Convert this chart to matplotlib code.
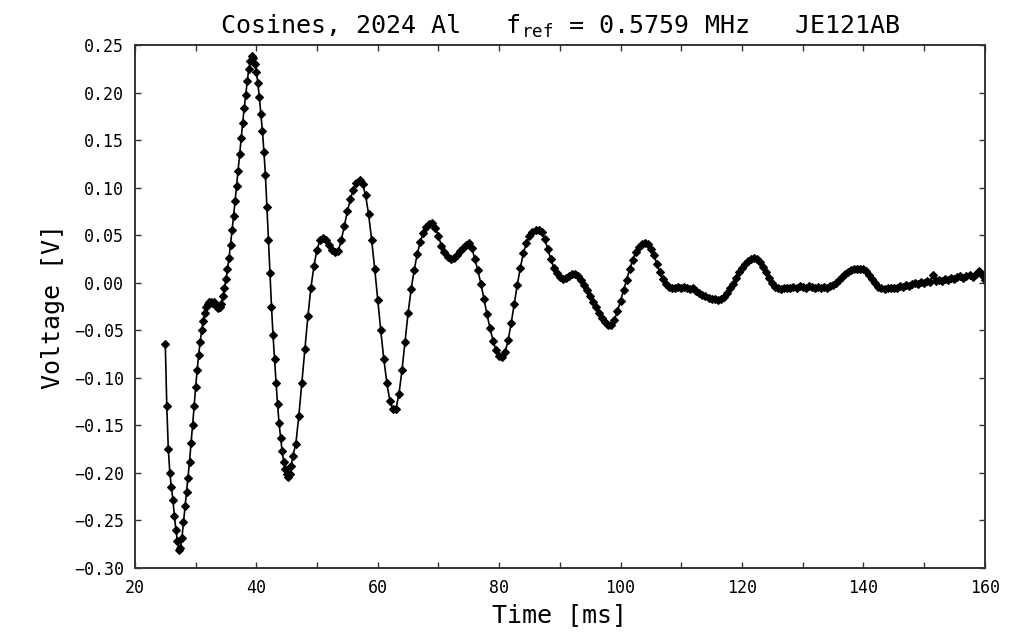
import matplotlib
matplotlib.use("Agg")
import numpy as np
from matplotlib import pyplot as plt
from matplotlib.ticker import MultipleLocator, FuncFormatter

# samples (time in ms, voltage in V)
t_early = [
    25.0, 25.25, 25.5, 25.75, 26.0, 26.25, 26.5, 26.75, 27.0, 27.25,
    27.5, 27.75, 28.0, 28.25, 28.5, 28.75, 29.0, 29.25, 29.5, 29.75,
    30.0, 30.25, 30.5, 30.75, 31.0, 31.25, 31.5, 31.75, 32.0, 32.25,
    32.5, 32.75, 33.0, 33.25, 33.5, 33.75, 34.0, 34.25, 34.5, 34.75,
    35.0, 35.25, 35.5, 35.75, 36.0, 36.25, 36.5, 36.75, 37.0, 37.25,
    37.5, 37.75, 38.0, 38.25, 38.5, 38.75, 39.0, 39.25, 39.5, 39.75,
    40.0, 40.25, 40.5, 40.75, 41.0, 41.25, 41.5, 41.75, 42.0, 42.25,
    42.5, 42.75, 43.0, 43.25, 43.5, 43.75, 44.0, 44.25, 44.5, 44.75,
    45.0, 45.25, 45.5, 45.75, 46.0,
]
v_early = [
    -0.064, -0.130, -0.175, -0.200, -0.215, -0.228, -0.245, -0.260, -0.272, -0.281,
    -0.279, -0.268, -0.252, -0.235, -0.220, -0.205, -0.188, -0.168, -0.150, -0.130,
    -0.110, -0.092, -0.076, -0.062, -0.050, -0.040, -0.032, -0.026, -0.022, -0.020,
    -0.020, -0.021, -0.020, -0.022, -0.025, -0.027, -0.026, -0.022, -0.014, -0.006,
    0.004, 0.014, 0.026, 0.040, 0.055, 0.070, 0.086, 0.102, 0.118, 0.135,
    0.152, 0.168, 0.184, 0.198, 0.212, 0.225, 0.233, 0.238, 0.236, 0.230,
    0.222, 0.210, 0.195, 0.178, 0.160, 0.138, 0.113, 0.080, 0.045, 0.010,
    -0.025, -0.055, -0.080, -0.105, -0.128, -0.148, -0.163, -0.177, -0.188, -0.196,
    -0.201, -0.204, -0.201, -0.193, -0.182,
]

t_mid = [
    46.5, 47.0, 47.5, 48.0, 48.5, 49.0, 49.5, 50.0, 50.5, 51.0,
    51.5, 52.0, 52.5, 53.0, 53.5, 54.0, 54.5, 55.0, 55.5, 56.0,
    56.5, 57.0, 57.5, 58.0, 58.5, 59.0, 59.5, 60.0, 60.5, 61.0,
    61.5, 62.0, 62.5, 63.0, 63.5, 64.0, 64.5, 65.0, 65.5, 66.0,
    66.5, 67.0, 67.5, 68.0, 68.5, 69.0, 69.5, 70.0, 70.5, 71.0,
    71.5, 72.0, 72.5, 73.0, 73.5, 74.0, 74.5, 75.0, 75.5, 76.0,
    76.5, 77.0, 77.5, 78.0, 78.5, 79.0, 79.5, 80.0, 80.5, 81.0,
    81.5, 82.0, 82.5, 83.0, 83.5, 84.0, 84.5, 85.0, 85.5, 86.0,
    86.5, 87.0, 87.5, 88.0, 88.5, 89.0, 89.5, 90.0, 90.5, 91.0,
    91.5, 92.0, 92.5, 93.0, 93.5, 94.0, 94.5, 95.0, 95.5, 96.0,
    96.5, 97.0, 97.5, 98.0, 98.5, 99.0, 99.5, 100.0, 100.5, 101.0,
    101.5, 102.0, 102.5, 103.0, 103.5, 104.0, 104.5, 105.0, 105.5, 106.0,
    106.5, 107.0, 107.5, 108.0, 108.5, 109.0, 109.5, 110.0,
]
v_mid = [
    -0.170, -0.140, -0.105, -0.070, -0.035, -0.005, 0.018, 0.035, 0.045, 0.047,
    0.045, 0.040, 0.035, 0.032, 0.033, 0.045, 0.060, 0.075, 0.088, 0.098,
    0.105, 0.108, 0.104, 0.092, 0.072, 0.045, 0.015, -0.018, -0.050, -0.080,
    -0.105, -0.124, -0.133, -0.133, -0.117, -0.092, -0.062, -0.032, -0.007, 0.013,
    0.030, 0.043, 0.052, 0.059, 0.062, 0.063, 0.058, 0.049, 0.039, 0.032,
    0.027, 0.025, 0.026, 0.029, 0.033, 0.037, 0.040, 0.042, 0.037, 0.025,
    0.013, -0.001, -0.017, -0.033, -0.048, -0.061, -0.071, -0.077, -0.078, -0.073,
    -0.060, -0.042, -0.022, -0.002, 0.016, 0.031, 0.042, 0.049, 0.053, 0.055,
    0.056, 0.053, 0.046, 0.036, 0.025, 0.016, 0.010, 0.006, 0.004, 0.005,
    0.007, 0.009, 0.009, 0.007, 0.003, -0.002, -0.008, -0.014, -0.020, -0.026,
    -0.032, -0.037, -0.041, -0.044, -0.044, -0.039, -0.030, -0.019, -0.008, 0.003,
    0.014, 0.024, 0.032, 0.038, 0.041, 0.042, 0.041, 0.036, 0.029, 0.020,
    0.011, 0.004, -0.001, -0.004, -0.006, -0.005, -0.004, -0.005,
]

t_late = [
    110.5, 111.0, 111.5, 112.0, 112.5, 113.0, 113.5, 114.0, 114.5, 115.0,
    115.5, 116.0, 116.5, 117.0, 117.5, 118.0, 118.5, 119.0, 119.5, 120.0,
    120.5, 121.0, 121.5, 122.0, 122.5, 123.0, 123.5, 124.0, 124.5, 125.0,
    125.5, 126.0, 126.5, 127.0, 127.5, 128.0, 128.5, 129.0, 129.5, 130.0,
    130.5, 131.0, 131.5, 132.0, 132.5, 133.0, 133.5, 134.0, 134.5, 135.0,
    135.5, 136.0, 136.5, 137.0, 137.5, 138.0, 138.5, 139.0, 139.5, 140.0,
    140.5, 141.0, 141.5, 142.0, 142.5, 143.0, 143.5, 144.0, 144.5, 145.0,
    145.5, 146.0, 146.5, 147.0, 147.5, 148.0, 148.5, 149.0, 149.5, 150.0,
    150.5, 151.0, 151.5, 152.0, 152.5, 153.0, 153.5, 154.0, 154.5, 155.0,
    155.5, 156.0, 156.5, 157.0, 157.5, 158.0, 158.5, 159.0, 159.5, 160.0,
]
v_late = [
    -0.004, -0.005, -0.007, -0.006, -0.009, -0.011, -0.013, -0.014, -0.016, -0.017,
    -0.017, -0.018, -0.017, -0.015, -0.011, -0.006, -0.001, 0.005, 0.011, 0.016,
    0.020, 0.023, 0.025, 0.026, 0.025, 0.022, 0.017, 0.011, 0.005, 0.000,
    -0.004, -0.006, -0.007, -0.006, -0.005, -0.006, -0.004, -0.005, -0.003, -0.004,
    -0.005, -0.003, -0.004, -0.006, -0.004, -0.005, -0.004, -0.005, -0.003, -0.002,
    0.000, 0.003, 0.006, 0.009, 0.011, 0.013, 0.014, 0.015, 0.015, 0.014,
    0.012, 0.008, 0.004, 0.000, -0.004, -0.006, -0.007, -0.006, -0.006, -0.005,
    -0.005, -0.003, -0.004, -0.002, -0.003, -0.001, 0.000, -0.001, 0.001, 0.000,
    0.002, 0.001, 0.008, 0.002, 0.003, 0.002, 0.004, 0.003, 0.005, 0.004,
    0.006, 0.007, 0.005, 0.007, 0.008, 0.006, 0.009, 0.012, 0.008, 0.003,
]

time_ms = np.array(t_early + t_mid + t_late)
voltage = np.array(v_early + v_mid + v_late)

MONO = "DejaVu Sans Mono"

fig = plt.figure(figsize=(10.30, 6.35), dpi=100)
ax = fig.add_axes([0.131, 0.1055, 0.825, 0.8235])

ax.plot(time_ms, voltage, color="black", linewidth=1.2,
        marker="D", markersize=4.0, markeredgewidth=0.8)

ax.set_xlim(20, 160)
ax.set_ylim(-0.30, 0.25)
ax.xaxis.set_major_locator(MultipleLocator(20))
ax.xaxis.set_minor_locator(MultipleLocator(10))
ax.yaxis.set_major_locator(MultipleLocator(0.05))
ax.yaxis.set_major_formatter(FuncFormatter(lambda v, _: f"{v:.2f}".replace("-", "\u2212")))
ax.tick_params(which="both", direction="in", top=True, right=True,
               length=4, width=1, color="#333333")
ax.tick_params(axis="both", labelsize=12, pad=8)
for lbl in ax.get_xticklabels() + ax.get_yticklabels():
    lbl.set_family(MONO)
for sp in ax.spines.values():
    sp.set_linewidth(1.4)
    sp.set_color("#333333")

ax.set_xlabel("Time [ms]", fontsize=18, family=MONO, labelpad=4)
ax.set_ylabel("Voltage [V]", fontsize=18, family=MONO, labelpad=6)
ax.set_title(r"Cosines, 2024 Al   $\mathregular{f_{ref}}$ = 0.5759 MHz   JE121AB",
             fontsize=18, family=MONO, pad=8)

fig.savefig("out.png", dpi=100)
